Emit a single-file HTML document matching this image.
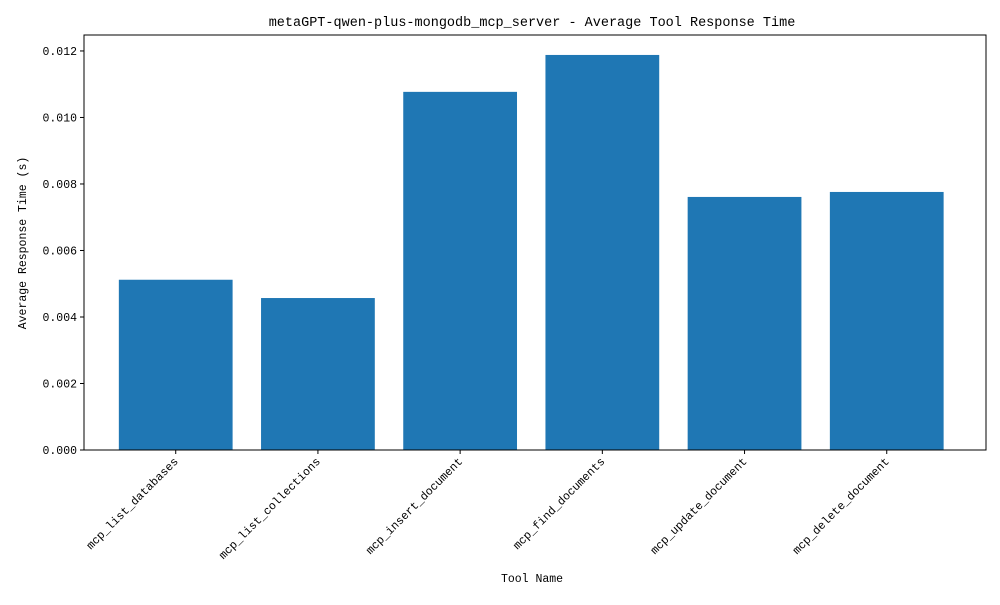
<!DOCTYPE html>
<html><head><meta charset="utf-8"><style>
body{margin:0;background:#fff}
svg text{font-family:"WenQuanYi Zen Hei Mono","WenQuanYi Zen Hei","Liberation Mono",monospace;fill:#000}
</style></head><body>
<svg id="chart" width="1000" height="600">
<text x="532" y="26" text-anchor="middle" font-size="13.5">metaGPT-qwen-plus-mongodb_mcp_server - Average Tool Response Time</text>
<g id="bars"></g><g id="yt"></g><g id="xt"></g>
<rect x="84" y="35" width="902" height="415" fill="none" stroke="#000" stroke-width="1"/>
<text x="532" y="582" text-anchor="middle" font-size="11.5">Tool Name</text>
<text transform="translate(26,243) rotate(-90)" text-anchor="middle" font-size="11.5">Average Response Time (s)</text>
</svg>
<script>
const categories=["mcp_list_databases","mcp_list_collections","mcp_insert_document","mcp_find_documents","mcp_update_document","mcp_delete_document"];
const values=[0.00512,0.00457,0.01077,0.01188,0.00761,0.00776];
const yTicks=[0,0.002,0.004,0.006,0.008,0.010,0.012];
const yTickLabels=["0.000","0.002","0.004","0.006","0.008","0.010","0.012"];
const ns="http://www.w3.org/2000/svg";
const L=84,R=986,T=35,B=450,yMax=0.01248,xMin=-0.645,xMax=5.698;
const xs=v=>L+(v-xMin)/(xMax-xMin)*(R-L);
const ys=v=>B-v/yMax*(B-T);
function mk(t,a,p){const e=document.createElementNS(ns,t);for(const k in a)e.setAttribute(k,a[k]);p.appendChild(e);return e;}
const bg=document.getElementById('bars'),yg=document.getElementById('yt'),xg=document.getElementById('xt');
values.forEach((v,i)=>{
 const x0=xs(i-0.4),x1=xs(i+0.4);
 const r=mk('rect',{x:x0,y:ys(v),width:x1-x0,height:B-ys(v),fill:'#1f77b4'},bg);
 
 
 const cx=xs(i);
 const tk=mk('line',{x1:cx,x2:cx,y1:B,y2:B+4,stroke:'#000'},xg);
 
 
 const t=mk('text',{transform:`translate(${cx+3},${B+12}) rotate(-45)`,'text-anchor':'end','font-size':11.5},xg);
 t.textContent=categories[i];
 
 
});
yTicks.forEach((v,i)=>{
 const y=ys(v);
 const tk=mk('line',{x1:L-4,x2:L,y1:y,y2:y,stroke:'#000'},yg);
 
 
 const t=mk('text',{x:L-7,y:y+4,'text-anchor':'end','font-size':11.5},yg);
 t.textContent=yTickLabels[i];
 
 
});
</script>
</body></html>
